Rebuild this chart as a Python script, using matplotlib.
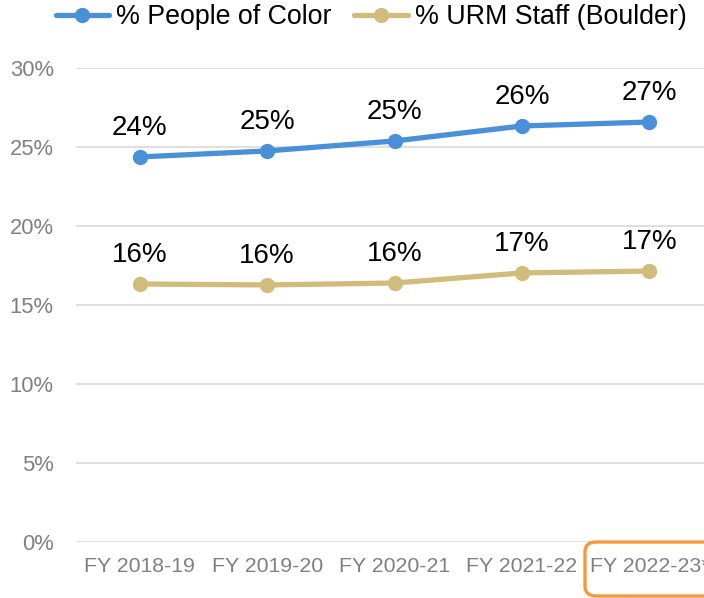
import matplotlib.pyplot as plt
from matplotlib.patches import FancyBboxPatch
from matplotlib.ticker import FuncFormatter

plt.rcParams['font.family'] = ['Liberation Sans', 'DejaVu Sans']

years = ["FY 2018-19", "FY 2019-20", "FY 2020-21", "FY 2021-22", "FY 2022-23*"]
poc = [24.37, 24.75, 25.38, 26.33, 26.58]
urm = [16.33, 16.27, 16.39, 17.03, 17.15]
poc_labels = ["24%", "25%", "25%", "26%", "27%"]
urm_labels = ["16%", "16%", "16%", "17%", "17%"]
yticks = [0, 5, 10, 15, 20, 25, 30]

blue = "#4a90d9"
gold = "#d2bc7c"

fig = plt.figure(figsize=(7.04, 5.98), dpi=100)
# axes run past the right edge, like the cropped original
ax = fig.add_axes([76/704, 56/598, 637/704, 474/598])

x = list(range(len(years)))
ax.plot(x, poc, color=blue, lw=3.8, marker="o", ms=10, label="% People of Color", solid_capstyle="round")
ax.plot(x, urm, color=gold, lw=3.8, marker="o", ms=10, label="% URM Staff (Boulder)", solid_capstyle="round")

for xi, v, s in zip(x, poc, poc_labels):
    ax.annotate(s, (xi, v), xytext=(0, 21), textcoords="offset points",
                ha="center", va="center", fontsize=20, color="black")
for xi, v, s in zip(x, urm, urm_labels):
    ax.annotate(s, (xi, v), xytext=(0, 21), textcoords="offset points",
                ha="center", va="center", fontsize=20, color="black")

ax.set_xlim(-0.5, len(years) - 0.5)
ax.set_ylim(0, 30)
ax.set_yticks(yticks)
ax.yaxis.set_major_formatter(FuncFormatter(lambda v, p: f"{v:.0f}%"))
ax.set_xticks(x)
ax.set_xticklabels(years)
ax.tick_params(axis="y", length=0, pad=16, labelsize=15.8, labelcolor="#808080")
ax.tick_params(axis="x", length=0, pad=11, labelsize=15.3, labelcolor="#808080")
ax.grid(axis="y", color="#d9d9d9", lw=1.2)
ax.set_axisbelow(True)
for sp in ax.spines.values():
    sp.set_visible(False)

leg = fig.legend(loc="center", bbox_to_anchor=(371/704, 1 - 17/598), ncol=2, frameon=False,
                 fontsize=19.3, handlelength=2.0, handletextpad=0.25, columnspacing=0.85,
                 borderaxespad=0)

box = FancyBboxPatch((585/704, 2/598), 140/704, 54/598,
                     boxstyle="round,pad=0,rounding_size=0.016",
                     transform=fig.transFigure, fill=False, ec="#f7983a", lw=2.4, clip_on=False)
fig.patches.append(box)

fig.savefig("out.png", dpi=100)
